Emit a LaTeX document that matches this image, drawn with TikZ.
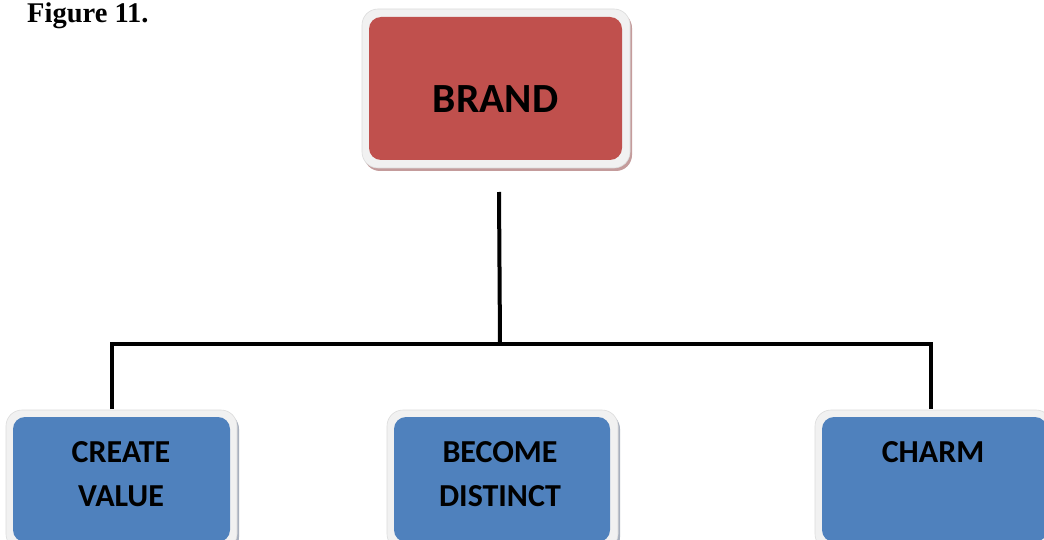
\documentclass[tikz,border=0pt]{standalone}
\usepackage{fontspec}
\setmainfont{Liberation Serif}
\newfontfamily\calfont{Carlito}
\usetikzlibrary{calc}
\definecolor{brandred}{HTML}{C0504D}
\definecolor{boxblue}{HTML}{4F81BD}
\definecolor{rim}{HTML}{F1F1F1}
\definecolor{rimedge}{HTML}{DCDCDC}
\definecolor{redshadow}{HTML}{C49C9C}
\definecolor{blueshadow}{HTML}{A8B0BE}
\newcommand{\panelbg}[5]{%
  \fill[#5, rounded corners=16pt] ($(#1,#2)+(2,3)$) rectangle ($(#3,#4)+(2,3)$);
  \filldraw[rimstyle] (#1,#2) rectangle (#3,#4);
}
\begin{document}
\begin{tikzpicture}[x=1pt,y=-1pt,
  rimstyle/.style={fill=rim, draw=rimedge, line width=0.6pt, rounded corners=16pt},
  redpanel/.style={fill=brandred, rounded corners=12pt, inner sep=0pt},
  bluepanel/.style={fill=boxblue, rounded corners=12pt, inner sep=0pt},
  bigtxt/.style={font=\calfont\bfseries\fontsize{41.5}{48}\selectfont, anchor=base, inner sep=0pt},
  smalltxt/.style={font=\calfont\bfseries\fontsize{32}{44}\selectfont, anchor=base, inner sep=0pt, align=center},
  conn/.style={draw=black, line width=4pt}]
\useasboundingbox (0,0) rectangle (1044,540);
\clip (0,0) rectangle (1044,540);
\fill[white] (0,0) rectangle (1044,540);

% title
\node[font=\bfseries\fontsize{28.5}{32}\selectfont, anchor=base west, inner sep=0pt] (fig) at (27,23) {Figure 11.};

% brand
\panelbg{362}{9}{630}{168}{redshadow}
\node[redpanel, minimum width=253pt, minimum height=143pt] (brand) at (495.5,88.5) {};
\node[bigtxt] (brandtxt) at (495.5,113) {BRAND};

% bottom boxes
\panelbg{6}{410}{237}{550}{blueshadow}
\node[bluepanel, minimum width=217pt, minimum height=125pt] (create) at (121.5,479.5) {};
\node[smalltxt] (createtxt) at (121,506) {CREATE\\VALUE};

\panelbg{387}{410}{618}{550}{blueshadow}
\node[bluepanel, minimum width=216pt, minimum height=125pt] (become) at (502,479.5) {};
\node[smalltxt] (becometxt) at (500,506) {BECOME\\DISTINCT};

\panelbg{815}{410}{1052}{550}{blueshadow}
\node[bluepanel, minimum width=225pt, minimum height=125pt] (charm) at (934.5,479.5) {};
\node[smalltxt] (charmtxt) at (933,462) {CHARM};

% connectors
\coordinate (top) at (499,192);
\coordinate (hub) at (500,343.5);
\coordinate (lt) at (111.5,343.5);
\coordinate (rt) at (931,343.5);
\coordinate (lb) at (111.5,409);
\coordinate (rb) at (931,409);
\draw[conn] (top) -- (hub);
\draw[conn, line join=miter] (lb) -- (lt) -- (rt) -- (rb);
\end{tikzpicture}
\end{document}
